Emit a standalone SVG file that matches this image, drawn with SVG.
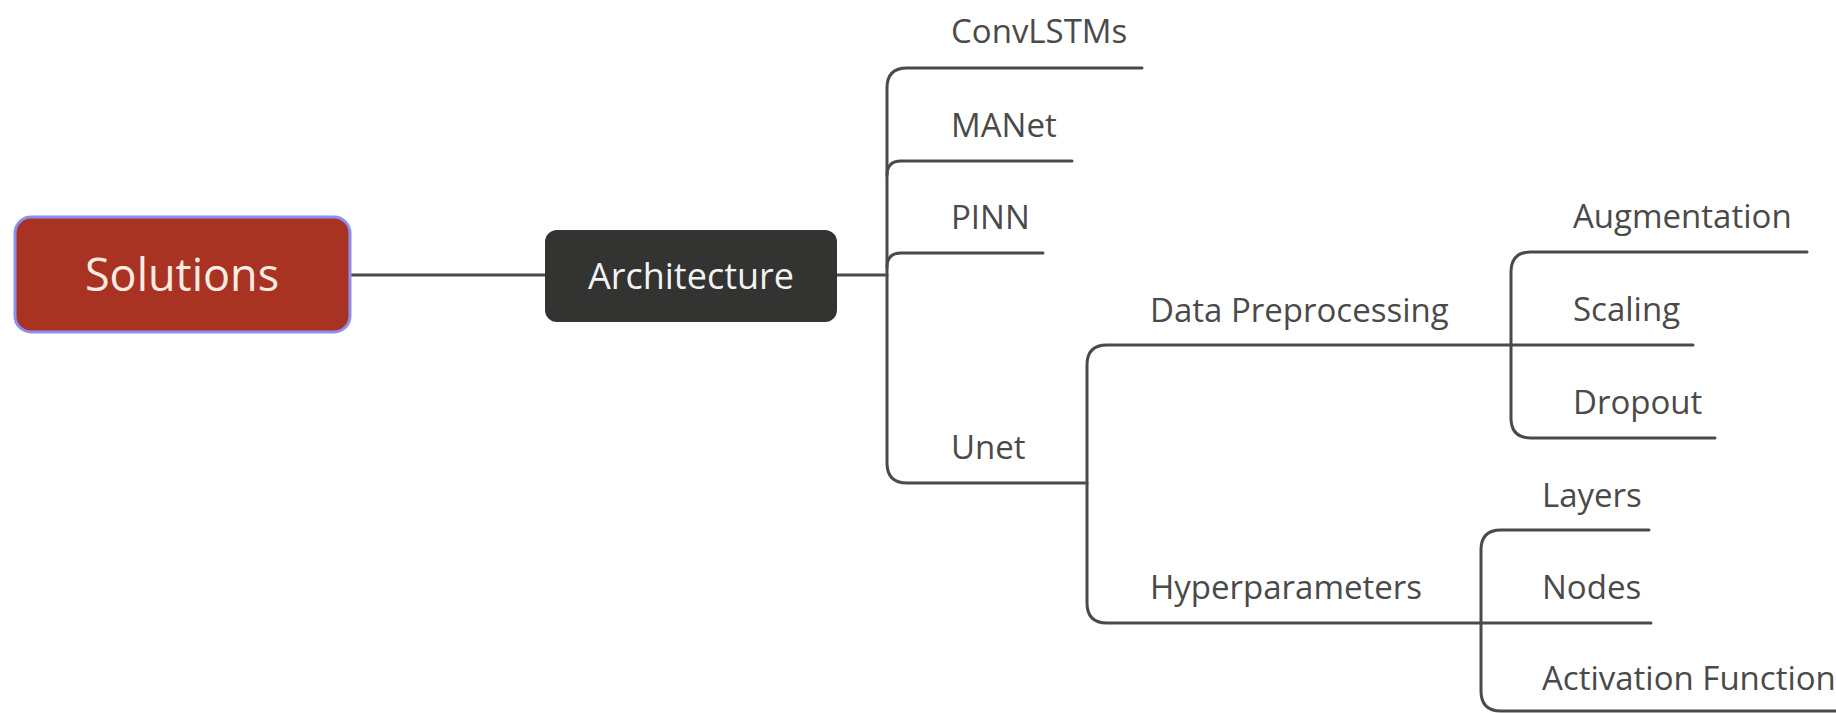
<svg xmlns="http://www.w3.org/2000/svg" width="1836" height="713" viewBox="0 0 1836 713">
<style>
.ln{fill:none;stroke:#4a4a4a;stroke-width:3;stroke-linecap:round;stroke-linejoin:round}
.lb{font-family:"Open Sans","Noto Sans","Liberation Sans",sans-serif;font-size:33px;fill:#4a4a4a}
</style>
<rect width="1836" height="713" fill="#ffffff"/>
<g id="connectors">
<path class="ln" d="M350,275 L545,275"/>
<path class="ln" d="M837,275 L887,275"/>
<path class="ln" d="M1142,68 L907,68 Q887,68 887,88 L887,463 Q887,483 907,483 L1087,483"/>
<path class="ln" d="M887,175 Q887,161 901,161 L1072,161"/>
<path class="ln" d="M887,267 Q887,253 901,253 L1043,253"/>
<path class="ln" d="M1693,345 L1107,345 Q1087,345 1087,365 L1087,603 Q1087,623 1107,623 L1651,623"/>
<path class="ln" d="M1807,252 L1531,252 Q1511,252 1511,272 L1511,418 Q1511,438 1531,438 L1715,438"/>
<path class="ln" d="M1649,530 L1501,530 Q1481,530 1481,550 L1481,691 Q1481,711 1501,711 L1836,711"/>
</g>
<g id="node-solutions">
<rect x="15" y="217" width="335" height="115" rx="16" fill="#a93323" stroke="#8b8ff2" stroke-width="3"/>
<text x="182" y="291" text-anchor="middle" font-family="Open Sans, Noto Sans, Liberation Sans, sans-serif" font-size="45" fill="#fcebe2">Solutions</text>
</g>
<g id="node-architecture">
<rect x="545" y="230" width="292" height="92" rx="12" fill="#333331"/>
<text x="691" y="289" text-anchor="middle" font-family="Open Sans, Noto Sans, Liberation Sans, sans-serif" font-size="36" fill="#f2f2f2">Architecture</text>
</g>
<g id="node-convlstms"><text class="lb" x="951" y="43">ConvLSTMs</text></g>
<g id="node-manet"><text class="lb" x="951" y="137">MANet</text></g>
<g id="node-pinn"><text class="lb" x="951" y="229">PINN</text></g>
<g id="node-unet"><text class="lb" x="951" y="459">Unet</text></g>
<g id="node-data-preprocessing"><text class="lb" x="1150" y="322">Data Preprocessing</text></g>
<g id="node-hyperparameters"><text class="lb" x="1150" y="599">Hyperparameters</text></g>
<g id="node-augmentation"><text class="lb" x="1573" y="228">Augmentation</text></g>
<g id="node-scaling"><text class="lb" x="1573" y="321">Scaling</text></g>
<g id="node-dropout"><text class="lb" x="1573" y="414">Dropout</text></g>
<g id="node-layers"><text class="lb" x="1542" y="507">Layers</text></g>
<g id="node-nodes"><text class="lb" x="1542" y="599">Nodes</text></g>
<g id="node-activation"><text class="lb" x="1542" y="690">Activation Function</text></g>
</svg>
